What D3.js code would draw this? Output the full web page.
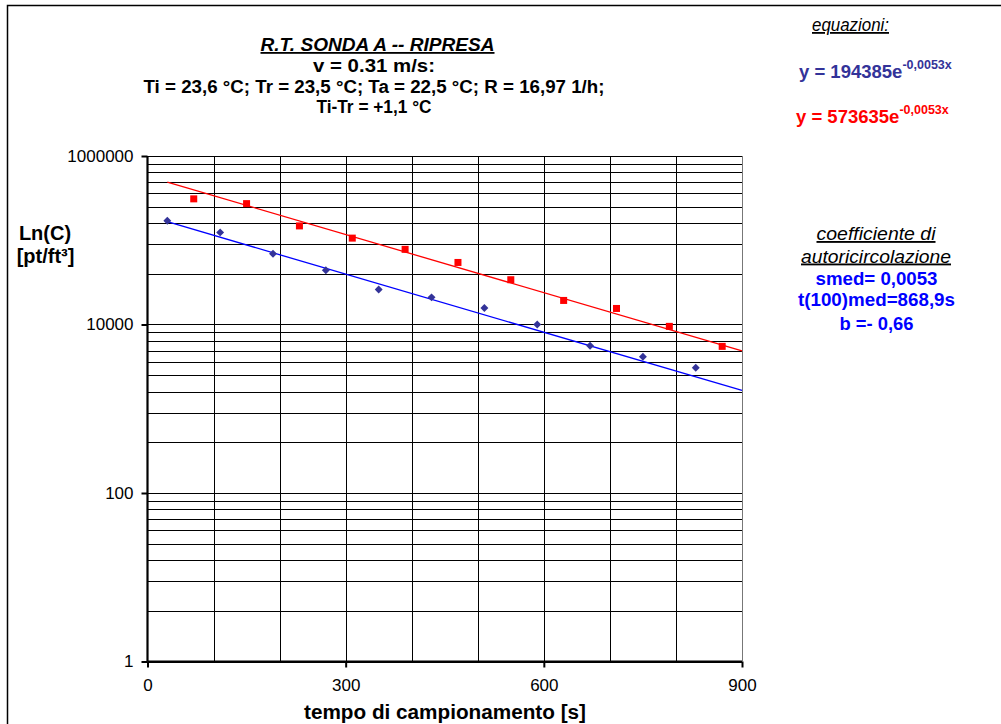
<!DOCTYPE html>
<html><head><meta charset="utf-8">
<script src="https://cdn.jsdelivr.net/npm/d3@7"></script>
<style>
html,body{margin:0;padding:0;background:#fff;}
svg{display:block;}
text{font-family:"Liberation Sans",Arial,sans-serif;}
</style></head>
<body>
<script>
// ---- data ----
const blueX = [30,110,190,270,350,430,510,590,670,750,830];
const blueY = [170000,124000,69000,44000,26000,21000,15700,10000,5600,4150,3070];
const redX  = [70,150,230,310,390,470,550,630,710,790,870];
const redY  = [310000,272000,148000,106000,78000,54500,34000,19300,15500,9500,5500];
// trendline equations y = a * e^(b x), drawn over this x range
const trendA = [194385, 573635];
const trendB = [-0.0053, -0.0053];
const trendRange = [30, 900];
const xTicks = [0,300,600,900];
const xGrid = [100,200,300,400,500,600,700,800,900];
const yTicks = [1,100,10000,1000000];
const yMinorMult = [4,9,16,25,36,49,64,81];
const titleLines = ["v = 0.31 m/s:", "Ti = 23,6 °C; Tr = 23,5 °C; Ta = 22,5 °C; R = 16,97 1/h;", "Ti-Tr = +1,1 °C"];
const coeffLines = ["smed= 0,0053", "t(100)med=868,9s", "b =- 0,66"];

const W = 1001, H = 724;
const svg = d3.select("body").append("svg").attr("width", W).attr("height", H);

// outer chart border (left & top visible)
svg.append("path").attr("d", `M7.5,${H} V5.5 H${W}`).attr("fill","none").attr("stroke","#000").attr("stroke-width",1.5);

const x = d3.scaleLinear().domain([0,900]).range([147.5, 742]);
const y = d3.scaleLog().base(10).domain([1,1000000]).range([661.5, 156]);

// horizontal grid
const hVals = [];
yTicks.forEach((t,i) => {
  hVals.push(t);
  if (i < yTicks.length-1) yMinorMult.forEach(m => hVals.push(t*m));
});
const g = svg.append("g");
g.selectAll("line.h").data(hVals).join("line")
  .attr("x1", x(0)).attr("x2", x(900))
  .attr("y1", d => Math.round(y(d))+0.5).attr("y2", d => Math.round(y(d))+0.5)
  .attr("stroke", "#000").attr("stroke-width", 1);
g.selectAll("line.v").data(xGrid).join("line")
  .attr("x1", d => Math.round(x(d))+0.5).attr("x2", d => Math.round(x(d))+0.5)
  .attr("y1", y(1000000)).attr("y2", y(1))
  .attr("stroke", d => d===900 ? "#777" : "#000").attr("stroke-width", 1);

// axes
const yAxis = svg.append("g").attr("transform", `translate(${x(0)},0)`)
  .call(d3.axisLeft(y).tickValues(yTicks).tickFormat(d3.format("d")).tickSize(6).tickPadding(8));
const xAxis = svg.append("g").attr("transform", `translate(0,${y(1)})`)
  .call(d3.axisBottom(x).tickValues(xTicks).tickFormat(d3.format("d")).tickSize(6).tickPadding(11));
[yAxis, xAxis].forEach(a => {
  a.select(".domain").attr("stroke","#000").attr("stroke-width",2.2);
  a.selectAll(".tick line").attr("stroke","#000").attr("stroke-width",2);
  a.selectAll(".tick text").attr("font-family","Liberation Sans, Arial, sans-serif").attr("font-size",17).attr("fill","#000");
});
xAxis.select(".domain").attr("d", `M${x(0)},0H${x(900)}`);
yAxis.select(".domain").attr("d", `M0,${y(1)-y(1)}V${y(1000000)-y(1)}`).attr("transform",`translate(0,${y(1)})`);

// trendlines
const lineGen = d3.line().x(d => x(d[0])).y(d => y(d[1]));
const trendColors = ["#0000ff", "#ff0000"];
trendA.forEach((a,i) => {
  const pts = trendRange.map(t => [t, a*Math.exp(trendB[i]*t)]);
  svg.append("path").attr("d", lineGen(pts)).attr("fill","none")
    .attr("stroke", trendColors[i]).attr("stroke-width",1.3);
});

// markers
const blue = blueX.map((v,i)=>[v, blueY[i]]);
const red = redX.map((v,i)=>[v, redY[i]]);
svg.selectAll("path.dia").data(blue).join("path")
  .attr("d", d3.symbol().type(d3.symbolDiamond2).size(40))
  .attr("transform", d => `translate(${x(d[0])},${y(d[1])})`)
  .attr("fill", "#333399");
svg.selectAll("rect.sq").data(red).join("rect")
  .attr("x", d => x(d[0])-3.5).attr("y", d => y(d[1])-3.5)
  .attr("width", 7).attr("height", 7).attr("fill", "#ff0000");

// title block
svg.append("text").attr("x", 377.5).attr("y", 51).attr("text-anchor","middle")
  .attr("font-size",18).attr("font-weight","bold").attr("font-style","italic")
  .attr("text-decoration","underline").attr("textLength",234).attr("lengthAdjust","spacingAndGlyphs")
  .text("R.T. SONDA A -- RIPRESA");
const tW = [122, 461, 115];
titleLines.forEach((s,i) => {
  svg.append("text").attr("x", 374).attr("y", 72 + i*20.7).attr("text-anchor","middle")
    .attr("font-size",18).attr("font-weight","bold")
    .attr("textLength", tW[i]).attr("lengthAdjust", "spacingAndGlyphs").text(s);
});

// axis titles
svg.append("text").attr("x", 445).attr("y", 719).attr("text-anchor","middle")
  .attr("font-size",20).attr("font-weight","bold").attr("textLength",282).attr("lengthAdjust","spacingAndGlyphs")
  .text("tempo di campionamento [s]");
svg.append("text").attr("x", 45).attr("y", 240).attr("text-anchor","middle")
  .attr("font-size",20).attr("font-weight","bold").text("Ln(C)");
svg.append("text").attr("x", 45.5).attr("y", 263).attr("text-anchor","middle")
  .attr("font-size",20).attr("font-weight","bold").text("[pt/ft³]");

// equations
svg.append("text").attr("x", 850.5).attr("y", 31).attr("text-anchor","middle")
  .attr("font-family","Liberation Serif, Times New Roman, serif").attr("font-style","italic")
  .attr("font-size",18).attr("text-decoration","underline").attr("textLength",77).attr("lengthAdjust","spacingAndGlyphs")
  .text("equazioni:");
const eqColors = ["#333399", "#ff0000"];
const eqPos = [[799, 78], [796, 122.5]];
trendA.forEach((a,i) => {
  const t = svg.append("text").attr("x", eqPos[i][0]).attr("y", eqPos[i][1])
    .attr("font-size",18.5).attr("font-weight","bold").attr("fill", eqColors[i]);
  t.append("tspan").text(`y = ${a}e`);
  t.append("tspan").attr("dy", -9).attr("font-size",12.5)
    .text(String(trendB[i]).replace(".", ",") + "x");
});

// coefficient block
svg.append("text").attr("x", 876).attr("y", 240).attr("text-anchor","middle")
  .attr("font-size",18.5).attr("font-style","italic").attr("text-decoration","underline")
  .attr("textLength",119).attr("lengthAdjust","spacingAndGlyphs").text("coefficiente di");
svg.append("text").attr("x", 876).attr("y", 262.5).attr("text-anchor","middle")
  .attr("font-size",18.5).attr("font-style","italic").attr("text-decoration","underline")
  .attr("textLength",150).attr("lengthAdjust","spacingAndGlyphs").text("autoricircolazione");
const cW = [122, 157, 74];
const cY = [284.5, 306, 330];
coeffLines.forEach((s,i) => {
  svg.append("text").attr("x", 876.5).attr("y", cY[i]).attr("text-anchor","middle")
    .attr("font-size",18.5).attr("font-weight","bold").attr("fill","#0000ff")
    .attr("textLength", cW[i]).attr("lengthAdjust","spacingAndGlyphs").text(s);
});
</script>
</body></html>
